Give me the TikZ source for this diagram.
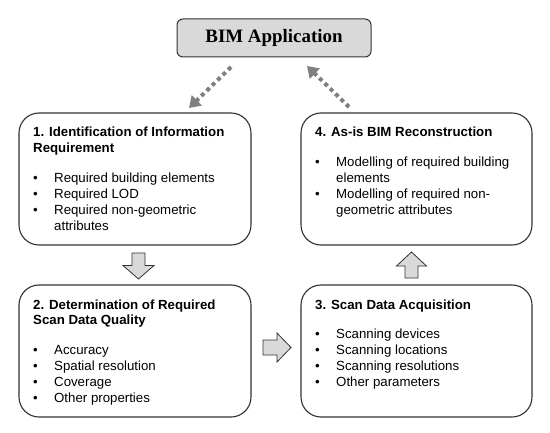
\documentclass[tikz,border=0pt]{standalone}
\usepackage{fontspec}
\setmainfont{Liberation Sans}
\newfontfamily\serifbim{Liberation Serif}
\usetikzlibrary{arrows.meta}
\definecolor{boxline}{RGB}{50,50,50}
\definecolor{arrfill}{RGB}{217,217,217}
\definecolor{dotgray}{RGB}{128,128,128}
\newcommand{\blist}[2]{%
  \fontsize{13.3}{16}\selectfont
  \begin{tabular}[t]{@{}p{21bp}@{}l@{}}
  #1\\[14bp]
  #2
  \end{tabular}}
\newcommand{\btitle}[1]{\multicolumn{2}{@{}l@{}}{\bfseries #1}}
\begin{document}
\begin{tikzpicture}[x=1bp,y=-1bp,
  stagebox/.style={draw=boxline, line width=1.1bp, rounded corners=20bp, fill=white,
    inner sep=0pt, minimum height=132bp},
  content/.style={anchor=base west, inner sep=0pt, text=black},
  fatarrow/.style={draw=boxline, line width=0.8bp, fill=arrfill},
  dotarrow/.style={draw=dotgray, line width=4bp, dash pattern=on 4bp off 3.5bp,
    -{Triangle[length=11bp,width=14bp]}}]
\useasboundingbox (0,0) rectangle (550,433);
% BIM application box
\node[draw=boxline, line width=1bp, fill=arrfill, rounded corners=6bp,
  minimum width=194bp, minimum height=38bp, inner sep=0pt,
  font=\serifbim\bfseries\fontsize{19}{22}\selectfont] (bim) at (274,38) {BIM Application};
% stage boxes
\node[stagebox, minimum width=232bp] (s1) at (135,179) {};
\node[stagebox, minimum width=232bp] (s2) at (135,351) {};
\node[stagebox, minimum width=231bp] (s3) at (416.5,351) {};
\node[stagebox, minimum width=231bp] (s4) at (416.5,179) {};
% contents
\node[content] (t1) at (33,137) {\blist{\btitle{1. Identification of Information}\\ \btitle{Requirement}}{%
  \textbullet & Required building elements\\
  \textbullet & Required LOD\\
  \textbullet & Required non-geometric\\
   & attributes}};
\node[content] (t2) at (33,309) {\blist{\btitle{2. Determination of Required}\\ \btitle{Scan Data Quality}}{%
  \textbullet & Accuracy\\
  \textbullet & Spatial resolution\\
  \textbullet & Coverage\\
  \textbullet & Other properties}};
\node[content] (t3) at (315,309) {\blist{\btitle{3. Scan Data Acquisition}}{%
  \textbullet & Scanning devices\\
  \textbullet & Scanning locations\\
  \textbullet & Scanning resolutions\\
  \textbullet & Other parameters}};
\node[content] (t4) at (315,137) {\blist{\btitle{4. As-is BIM Reconstruction}}{%
  \textbullet & Modelling of required building\\
   & elements\\
  \textbullet & Modelling of required non-\\
   & geometric attributes}};
% fat arrows
\draw[fatarrow] (132,253) -- (145,253) -- (145,265.5) -- (154,265.5) -- (138.5,279)
  -- (123,265.5) -- (132,265.5) -- cycle;
\draw[fatarrow] (263,340) -- (277,340) -- (277,333) -- (291,347.5) -- (277,362)
  -- (277,355) -- (263,355) -- cycle;
\draw[fatarrow] (405,278) -- (418,278) -- (418,266) -- (426.5,266) -- (411.5,252)
  -- (396.5,266) -- (405,266) -- cycle;
% dotted arrows
\coordinate (d1s) at (231,67);
\coordinate (d1e) at (189,108);
\coordinate (d2s) at (349,107);
\coordinate (d2e) at (307,66);
\draw[dotarrow] (d1s) -- (d1e);
\draw[dotarrow] (d2s) -- (d2e);
\end{tikzpicture}
\end{document}
